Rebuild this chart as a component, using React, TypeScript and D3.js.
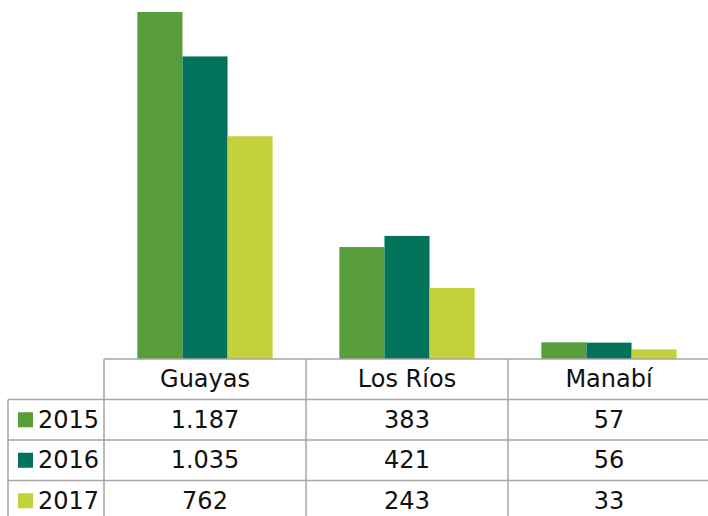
import React from "react";
import * as d3 from "d3";

const categories = ["Guayas", "Los Ríos", "Manabí"];
const years = ["2015", "2016", "2017"];
const values2015 = [1187, 383, 57];
const values2016 = [1035, 421, 56];
const values2017 = [762, 243, 33];
const labels2015 = ["1.187", "383", "57"];
const labels2016 = ["1.035", "421", "56"];
const labels2017 = ["762", "243", "33"];
const colors = ["#579E3B", "#03725A", "#C3D23A"];

const width = 708;
const height = 516;
const baseline = 359;
const tableLeft = 104;
const tableRight = 710;
const rowH = 40.5;

export default function App() {
  const series = [values2015, values2016, values2017];
  const labels = [labels2015, labels2016, labels2017];

  const x = d3.scaleBand().domain(categories).range([tableLeft, tableRight]).padding(0);
  const inner = d3
    .scaleBand()
    .domain(years)
    .range([0, x.bandwidth()])
    .paddingOuter(0.74)
    .paddingInner(0);
  const y = d3.scaleLinear().domain([0, 1187]).range([baseline, 12]);

  const font = "'DejaVu Sans', sans-serif";
  const grid = "#a6a6a6";

  return (
    <svg
      width={width}
      height={height}
      style={{ position: "absolute", left: 0, top: 0, background: "#fff" }}
    >
      {/* bars */}
      {categories.map((c, ci) => (
        <g key={c} transform={`translate(${x(c)},0)`}>
          {years.map((yr, si) => (
            <rect
              key={yr}
              x={inner(yr)}
              y={y(series[si][ci])}
              width={inner.bandwidth()}
              height={baseline - y(series[si][ci])}
              fill={colors[si]}
            />
          ))}
        </g>
      ))}

      {/* data table */}
      <g stroke={grid} strokeWidth={1.5} fill="none">
        <line x1={tableLeft} x2={tableRight} y1={baseline} y2={baseline} />
        {years.map((yr, i) => (
          <line
            key={yr}
            x1={8}
            x2={tableRight}
            y1={baseline + rowH * (i + 1)}
            y2={baseline + rowH * (i + 1)}
          />
        ))}
        <line x1={tableLeft} x2={tableLeft} y1={baseline} y2={height} />
        <line x1={8} x2={8} y1={baseline + rowH} y2={height} />
        {categories.map((c) => (
          <line key={c} x1={x(c)! + x.bandwidth()} x2={x(c)! + x.bandwidth()} y1={baseline} y2={height} />
        ))}
      </g>

      <g fontFamily={font} fontSize={24} fill="#111">
        {categories.map((c) => (
          <text
            key={c}
            x={x(c)! + x.bandwidth() / 2}
            y={baseline + rowH / 2}
            textAnchor="middle"
            dominantBaseline="central"
          >
            {c}
          </text>
        ))}
        {years.map((yr, si) => {
          const cy = baseline + rowH * (si + 1.5);
          return (
            <g key={yr}>
              <rect x={18} y={cy - 7.5} width={15} height={15} fill={colors[si]} />
              <text x={38} y={cy} dominantBaseline="central">
                {yr}
              </text>
              {categories.map((c, ci) => (
                <text
                  key={c}
                  x={x(c)! + x.bandwidth() / 2}
                  y={cy}
                  textAnchor="middle"
                  dominantBaseline="central"
                >
                  {labels[si][ci]}
                </text>
              ))}
            </g>
          );
        })}
      </g>
    </svg>
  );
}
